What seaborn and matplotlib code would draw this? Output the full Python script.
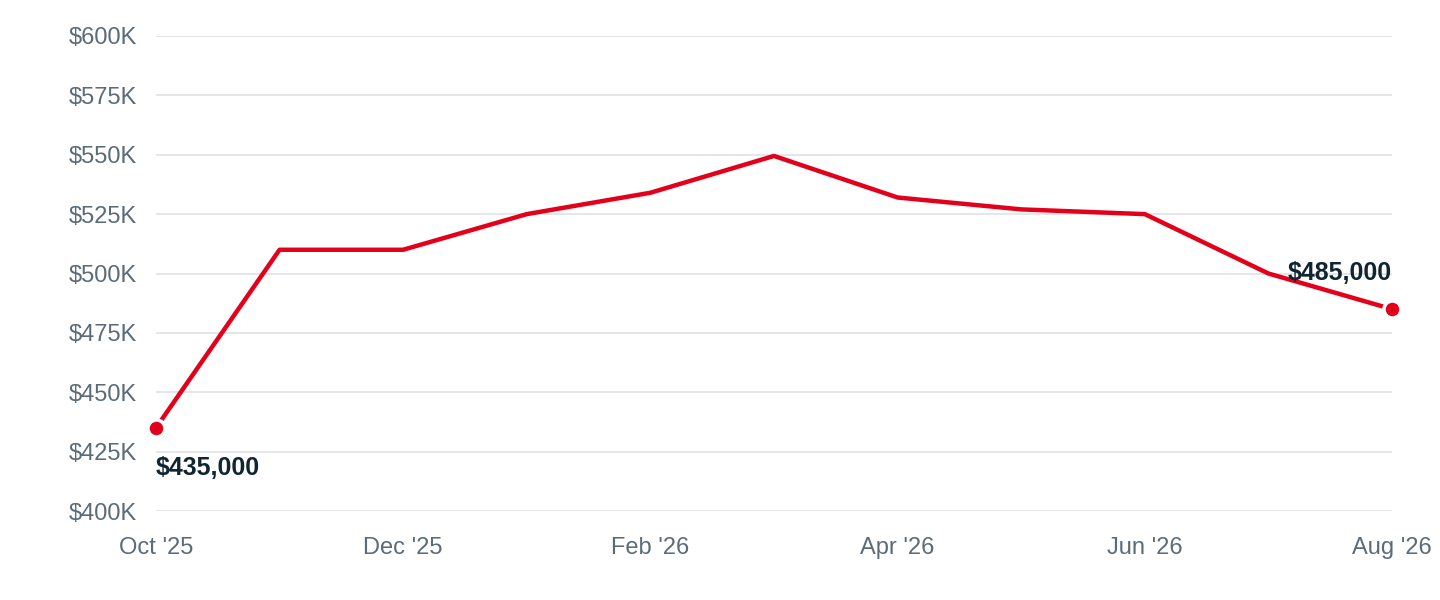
import numpy as np
import pandas as pd
import matplotlib
matplotlib.use('Agg')
import matplotlib.pyplot as plt
import seaborn as sns
from matplotlib.ticker import FuncFormatter

months = ["Oct '25", "Nov '25", "Dec '25", "Jan '26", "Feb '26", "Mar '26",
          "Apr '26", "May '26", "Jun '26", "Jul '26", "Aug '26"]
prices = [435000, 510000, 510000, 525000, 534000, 549500,
          532000, 527000, 525000, 500000, 485000]
yticks = [400000, 425000, 450000, 475000, 500000, 525000, 550000, 575000, 600000]

df = pd.DataFrame({'idx': np.arange(len(months)), 'month': months, 'price': prices})

sns.set_style('white')
plt.rcParams['font.family'] = ['Liberation Sans', 'DejaVu Sans']

red = '#e3001b'
fig = plt.figure(figsize=(14.4, 6), dpi=100)
ax = fig.add_axes([0.1083, 0.1483, 0.8584, 0.7917])

sns.lineplot(data=df, x='idx', y='price', color=red, linewidth=3.2, ax=ax)

# end points with white ring
ends = df.iloc[[0, -1]]
ax.scatter(ends['idx'], ends['price'], s=150, color=red, edgecolor='white',
           linewidth=2.5, zorder=5, clip_on=False)

ax.set_xlim(0, len(months) - 1)
ax.set_ylim(400000, 600000)
ax.set_yticks(yticks)
ax.yaxis.set_major_formatter(FuncFormatter(lambda v, p: f'${int(v/1000)}K'))
xt = list(range(0, len(months), 2))
ax.set_xticks(xt)
ax.set_xticklabels([months[i] for i in xt])
ax.grid(axis='y', color='#e0e4e8', linewidth=1.3)
ax.set_axisbelow(True)
for s in ax.spines.values():
    s.set_visible(False)
ax.tick_params(axis='both', length=0, labelsize=17, colors='#5b6b78')
ax.tick_params(axis='y', pad=13.5)
ax.tick_params(axis='x', pad=19)
ax.set_xlabel('')
ax.set_ylabel('')

ax.annotate(f'${prices[0]:,}', (0, prices[0]), xytext=(0, -29), textcoords='offset points',
            ha='left', va='center', fontsize=18, fontweight='bold', color='#0f2532')
ax.annotate(f'${prices[-1]:,}', (len(months) - 1, prices[-1]), xytext=(0, 26),
            textcoords='offset points', ha='right', va='center', fontsize=18,
            fontweight='bold', color='#0f2532')

fig.savefig('out.png', dpi=100)
